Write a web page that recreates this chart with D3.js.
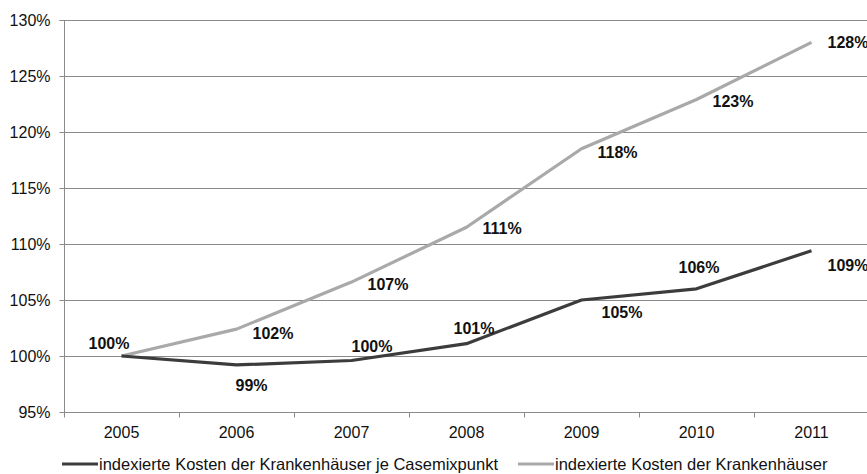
<!DOCTYPE html>
<html><head><meta charset="utf-8">
<script src="https://cdn.jsdelivr.net/npm/d3@7/dist/d3.min.js"></script>
<style>body{margin:0;background:#fff}svg{display:block;font-family:"Liberation Sans",Arial,sans-serif}</style>
</head><body><svg id="c" width="867" height="474"></svg>
<script>
const years = ["2005","2006","2007","2008","2009","2010","2011"];
const perCase = [100, 99.2, 99.6, 101.1, 105.0, 106.0, 109.4];
const total = [100, 102.4, 106.6, 111.5, 118.5, 122.9, 128.0];
const perCaseLabels = ["100%","99%","100%","101%","105%","106%","109%"];
const totalLabels = ["100%","102%","107%","111%","118%","123%","128%"];
const yTicks = [95,100,105,110,115,120,125,130];
const seriesNames = ["indexierte Kosten der Krankenhäuser je Casemixpunkt","indexierte Kosten der Krankenhäuser"];

// label offsets (layout only)
const darkOff = [[-33,-13],[-1,20],[0,-14],[-13,-15],[20,12],[-18,-21],[16,15]];
const lightOff = [[16,3],[16,4],[16,2],[16,1],[16,4],[16,2],[16,0]];

const svg = d3.select("#c");
const L = 64, R = 869, T = 20, B = 412;
const x = d3.scaleBand().domain(years).range([L, R]);
const y = d3.scaleLinear().domain([95,130]).range([B, T]);
const cx = d => x(d) + x.bandwidth()/2;

// gridlines
svg.append("g").selectAll("line").data(yTicks).join("line")
  .attr("x1", L).attr("x2", 867).attr("y1", d=>y(d)+0.5).attr("y2", d=>y(d)+0.5)
  .attr("stroke", "#8a8a8a").attr("stroke-width", 1);

// y axis
const ya = svg.append("g").attr("transform", `translate(${L+0.5},0)`)
  .call(d3.axisLeft(y).tickValues(yTicks).tickFormat(d=>d+"%").tickSize(5).tickPadding(9));
ya.select(".domain").attr("stroke","#8a8a8a").attr("d", `M-5,${y(130)+0.5}H0V${y(95)+0.5}`);
ya.selectAll(".tick line").attr("stroke","#8a8a8a");
ya.selectAll("text").attr("font-size",16).attr("fill","#111").attr("font-family","Liberation Sans, Arial, sans-serif");

// x axis
const xa = svg.append("g").attr("transform", `translate(0,${B+0.5})`);
xa.append("line").attr("x1", L).attr("x2", 867).attr("stroke","#8a8a8a");
xa.selectAll(".tk").data(years.map((d,i)=>x(d)).concat([R])).join("line")
  .attr("x1", d=>Math.round(d)+0.5).attr("x2", d=>Math.round(d)+0.5).attr("y1",0).attr("y2",5).attr("stroke","#8a8a8a");
xa.selectAll("text").data(years).join("text")
  .attr("x", d=>cx(d)).attr("y", 20).attr("dy","0.35em").attr("text-anchor","middle")
  .attr("font-size",16).attr("fill","#111").text(d=>d);

// lines
const line = d3.line().x((d,i)=>cx(years[i])).y(d=>y(d));
svg.append("path").datum(total).attr("d", line).attr("fill","none")
  .attr("stroke","#a9a9a9").attr("stroke-width",3.2).attr("stroke-linejoin","round");
svg.append("path").datum(perCase).attr("d", line).attr("fill","none")
  .attr("stroke","#3c3c3c").attr("stroke-width",3.2).attr("stroke-linejoin","round");

// labels
svg.append("g").selectAll("text").data(total).join("text")
  .attr("x",(d,i)=>cx(years[i])+lightOff[i][0]).attr("y",(d,i)=>y(d)+lightOff[i][1])
  .attr("dy","0.35em").attr("font-size",16).attr("font-weight","bold").attr("fill","#111")
  .text((d,i)=> i===0 ? "" : totalLabels[i]);
svg.append("g").selectAll("text").data(perCase).join("text")
  .attr("x",(d,i)=>cx(years[i])+darkOff[i][0]).attr("y",(d,i)=>y(d)+darkOff[i][1])
  .attr("dy","0.35em").attr("font-size",16).attr("font-weight","bold").attr("fill","#111")
  .text((d,i)=>perCaseLabels[i]);

// legend
const lg = svg.append("g");
const items = [{x:62, c:"#3c3c3c", t:seriesNames[0]},{x:518, c:"#a9a9a9", t:seriesNames[1]}];
items.forEach(it=>{
  lg.append("line").attr("x1",it.x).attr("x2",it.x+36).attr("y1",464).attr("y2",464)
    .attr("stroke",it.c).attr("stroke-width",3.2);
  lg.append("text").attr("x",it.x+37).attr("y",464).attr("dy","0.35em")
    .attr("font-size",16.5).attr("fill","#111").text(it.t);
});
</script></body></html>
